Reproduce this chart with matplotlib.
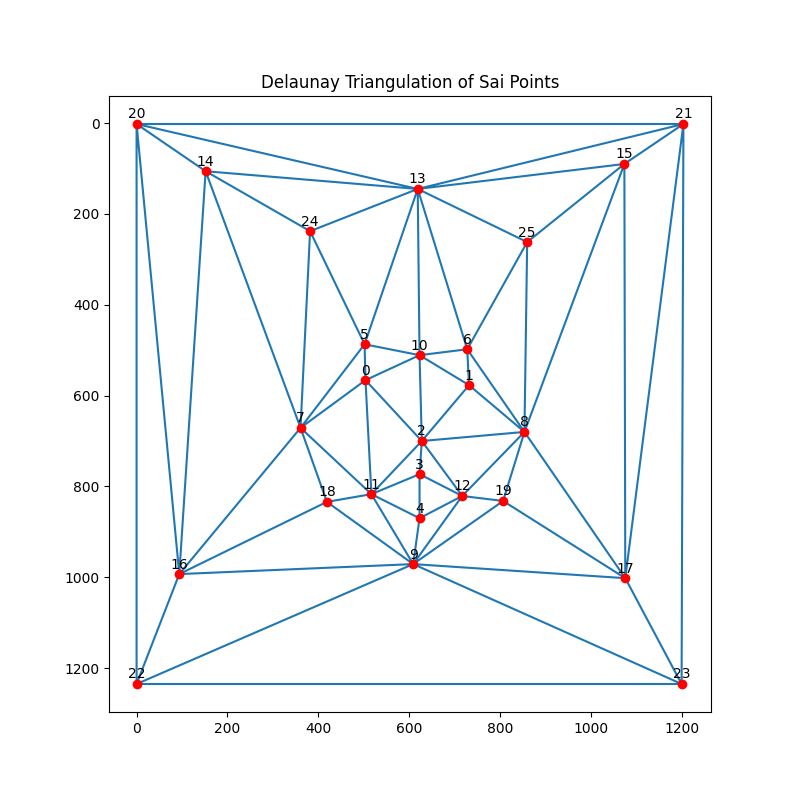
import matplotlib
matplotlib.use("Agg")
import matplotlib.pyplot as plt
import matplotlib.tri as mtri

# point coordinates
xs = [504, 732, 628, 623, 623, 502, 728, 361, 854, 609, 623, 517, 717,
      619, 152, 1074, 94, 1076, 419, 807, 0, 1204, 0, 1200, 382, 860]
ys = [566, 577, 700, 773, 870, 487, 498, 671, 680, 971, 511, 817, 821,
      145, 106, 90, 993, 1002, 834, 832, 2, 2, 1235, 1235, 238, 262]

tri = mtri.Triangulation(xs, ys)

fig, ax = plt.subplots(figsize=(8, 8), dpi=100)
ax.triplot(tri, color="#1f77b4")
ax.plot(xs, ys, "o", color="red")
for i, (x, y) in enumerate(zip(xs, ys)):
    ax.annotate(str(i), (x, y), textcoords="offset points", xytext=(0, 4),
                ha="center", fontsize=10)

ax.set_title("Delaunay Triangulation of Sai Points")
ax.set_aspect("equal")
ax.invert_yaxis()
fig.savefig("out.png")
